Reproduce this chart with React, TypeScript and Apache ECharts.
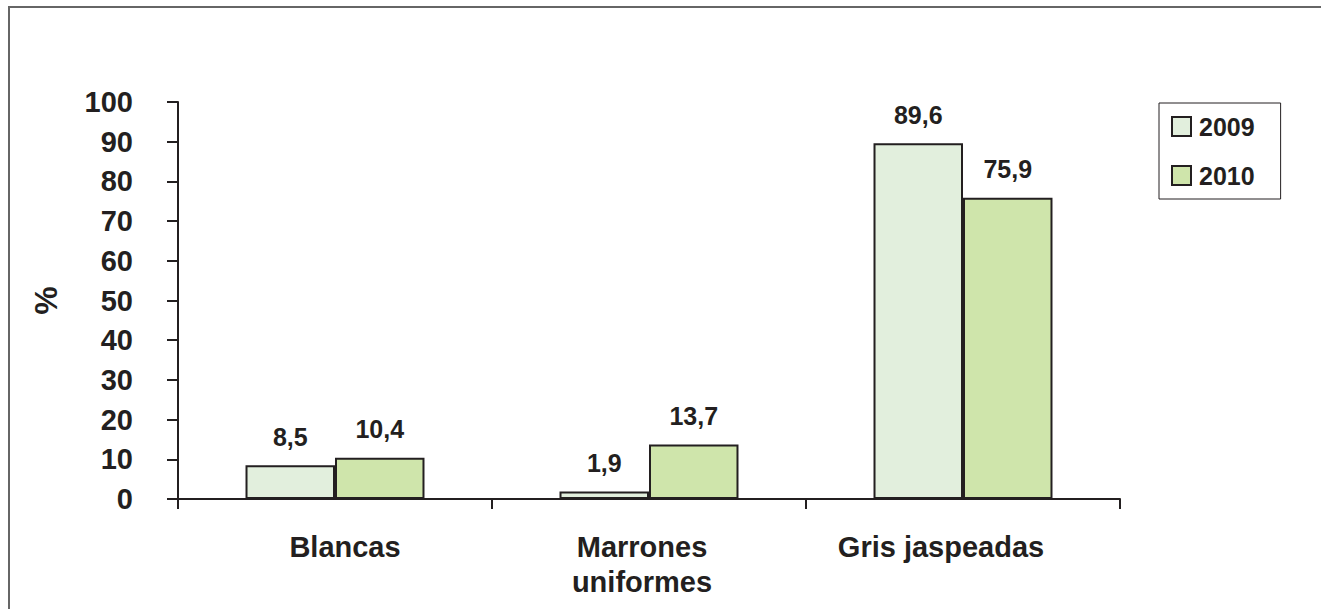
import React, { useEffect, useRef } from "react";
import * as echarts from "echarts";

const categories = ["Blancas", "Marrones\nuniformes", "Gris jaspeadas"];
// horizontal nudge of each category label, in px (positive = right)
const categoryLabelShift = [10, -7, -22];
const seriesNames = ["2009", "2010"];
const values2009 = [8.5, 1.9, 89.6];
const values2010 = [10.4, 13.7, 75.9];
const yTicks = [0, 10, 20, 30, 40, 50, 60, 70, 80, 90, 100];

const INK = "#231f20";
const FONT = "'Liberation Sans', Arial, Helvetica, sans-serif";

const commaDecimal = (v: number) => String(v).replace(".", ",");

export default function App() {
  const ref = useRef<HTMLDivElement>(null);

  useEffect(() => {
    if (!ref.current) return;
    const chart = echarts.init(ref.current, null, { renderer: "svg" });

    const barSeries = (name: string, data: number[], fill: string) => ({
      name,
      type: "bar",
      data,
      barGap: "0%",
      barCategoryGap: "43%",
      itemStyle: { color: fill, borderColor: INK, borderWidth: 2 },
      label: {
        show: true,
        position: "top",
        distance: 16,
        fontFamily: FONT,
        fontWeight: "bold",
        fontSize: 25,
        color: INK,
        formatter: (p: any) => commaDecimal(p.value),
      },
    });

    const categoryData = categories.map((c, i) => {
      const s = categoryLabelShift[i];
      return {
        value: c,
        textStyle: {
          padding: s >= 0 ? [0, 0, 0, 2 * s] : [0, -2 * s, 0, 0],
        },
      };
    });

    chart.setOption({
      animation: false,
      backgroundColor: "#ffffff",
      textStyle: { fontFamily: FONT },
      grid: { left: 178, right: 201, top: 102, bottom: 110, containLabel: false },
      legend: {
        orient: "vertical",
        left: 1159,
        top: 103,
        data: seriesNames,
        itemWidth: 19,
        itemHeight: 19,
        itemGap: 24,
        padding: [11, 26, 11, 12],
        borderColor: INK,
        borderWidth: 1,
        icon: "rect",
        textStyle: {
          fontFamily: FONT,
          fontWeight: "bold",
          fontSize: 25,
          lineHeight: 24,
          color: INK,
          padding: [0, 0, 0, 3],
        },
      },
      xAxis: {
        type: "category",
        data: categoryData,
        axisLine: { lineStyle: { color: INK, width: 2 } },
        axisTick: { show: true, length: 10, lineStyle: { color: INK, width: 2 } },
        axisLabel: {
          margin: 30,
          fontFamily: FONT,
          fontWeight: "bold",
          fontSize: 29,
          lineHeight: 35,
          color: INK,
        },
      },
      yAxis: {
        type: "value",
        min: yTicks[0],
        max: yTicks[yTicks.length - 1],
        interval: yTicks[1] - yTicks[0],
        name: "%",
        nameLocation: "middle",
        nameRotate: 90,
        nameGap: 116,
        nameTextStyle: { fontFamily: FONT, fontWeight: "bold", fontSize: 32, color: INK },
        splitLine: { show: false },
        axisLine: { show: true, lineStyle: { color: INK, width: 2 } },
        axisTick: { show: true, length: 11, lineStyle: { color: INK, width: 2 } },
        axisLabel: {
          margin: 45,
          fontFamily: FONT,
          fontWeight: "bold",
          fontSize: 29,
          color: INK,
        },
      },
      series: [
        barSeries(seriesNames[0], values2009, "#e2efdd"),
        barSeries(seriesNames[1], values2010, "#cfe5ab"),
      ],
      graphic: [
        {
          type: "polyline",
          silent: true,
          shape: { points: [[9, 609], [9, 7], [1321, 7]] },
          style: { stroke: "#666666", lineWidth: 2, fill: "none" },
        },
      ],
    });

    return () => chart.dispose();
  }, []);

  return (
    <div
      ref={ref}
      style={{ position: "absolute", left: 0, top: 0, width: 1321, height: 609 }}
    />
  );
}
